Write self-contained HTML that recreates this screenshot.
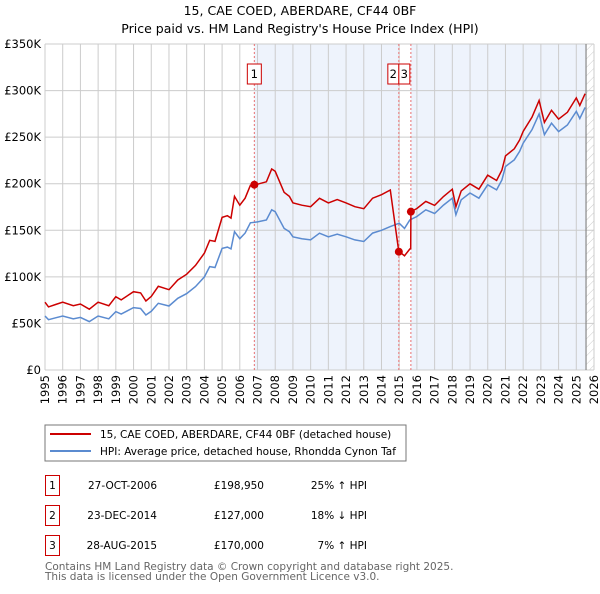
<!DOCTYPE html>
<html><head><meta charset="utf-8"><style>
body{margin:0;background:#fff;font-family:"DejaVu Sans",sans-serif;}
svg text{font-family:"DejaVu Sans",sans-serif;}
</style></head><body>
<svg id="c" width="600" height="590" xmlns="http://www.w3.org/2000/svg">
<defs><pattern id="hatch" width="6" height="6" patternUnits="userSpaceOnUse" patternTransform="rotate(45)"><line x1="0" y1="0" x2="0" y2="6" stroke="#ccc" stroke-width="1"/></pattern></defs>
<text x="300" y="15" text-anchor="middle" font-size="12.5">15, CAE COED, ABERDARE, CF44 0BF</text>
<text x="300" y="33" text-anchor="middle" font-size="12.5">Price paid vs. HM Land Registry's House Price Index (HPI)</text>
<g id="plot"></g>
<g>
<rect x="45" y="425" width="361" height="36" fill="#fff" stroke="#777" stroke-width="1"/>
<line x1="50" y1="434" x2="91" y2="434" stroke="#cc0000" stroke-width="2"/>
<text x="100" y="438" font-size="10.5">15, CAE COED, ABERDARE, CF44 0BF (detached house)</text>
<line x1="50" y1="451" x2="91" y2="451" stroke="#5b8bd0" stroke-width="2"/>
<text x="100" y="455" font-size="10.5">HPI: Average price, detached house, Rhondda Cynon Taf</text>
</g>
<g id="table" font-size="10.5"></g>
<text x="45" y="570" font-size="10.5" fill="#666">Contains HM Land Registry data © Crown copyright and database right 2025.</text>
<text x="45" y="580" font-size="10.5" fill="#666">This data is licensed under the Open Government Licence v3.0.</text>
</svg>
<script>
const hpiYears=[1995,1995.2,1995.6,1996,1996.6,1997,1997.5,1998,1998.6,1999,1999.3,2000,2000.4,2000.7,2001,2001.4,2002,2002.5,2003,2003.5,2004,2004.3,2004.6,2005,2005.3,2005.5,2005.7,2006,2006.3,2006.6,2007,2007.5,2007.8,2008,2008.5,2008.8,2009,2009.5,2010,2010.5,2011,2011.5,2012,2012.5,2013,2013.5,2014,2014.5,2015,2015.3,2015.6,2016,2016.5,2017,2017.5,2018,2018.2,2018.5,2019,2019.5,2020,2020.5,2020.8,2021,2021.5,2021.8,2022,2022.5,2022.9,2023.2,2023.6,2024,2024.5,2025,2025.2,2025.5];
const hpiValues=[58,54,56,58,55,56.5,52,58,55,62.7,60,67,66,59,63,71.6,68.7,77,82,89.5,100,111,110,130.6,132,130,148.5,141,147,158,159,161,172,170,152,148.5,143,141,139.7,146.9,143,145.8,143,139.7,138,147,150,154,157.6,152,161,164.8,172,168,177,184.5,166.6,182.7,190,184.5,198.8,193.4,204,218.5,225.7,234.7,243.6,258,275,252.6,265,256,263,277.6,270,281.9];
const saleLabels=["1","2","3"];
const saleYears=[2006.82,2014.98,2015.66];
const salePrices=[198.95,127,170];
const saleDates=["27-OCT-2006","23-DEC-2014","28-AUG-2015"];
const salePriceText=["£198,950","£127,000","£170,000"];
const saleHpiText=["25% ↑ HPI","18% ↓ HPI","7% ↑ HPI"];
const yTicks=[0,50,100,150,200,250,300,350];
const yTickLabels=["£0","£50K","£100K","£150K","£200K","£250K","£300K","£350K"];
const xMin=1995,xMax=2026,yMax=350,dataEnd=2025.55;
const L=45,R=594,T=44,B=370;
const sx=v=>L+(v-xMin)/(xMax-xMin)*(R-L);
const sy=v=>B-v/yMax*(B-T);
const NS="http://www.w3.org/2000/svg";
const plot=document.getElementById('plot');
function mk(t,a,p){const e=document.createElementNS(NS,t);for(const k in a)e.setAttribute(k,a[k]);(p||plot).appendChild(e);return e;}
function hpiAt(y){for(let i=1;i<hpiYears.length;i++){if(y<=hpiYears[i]){const f=(y-hpiYears[i-1])/(hpiYears[i]-hpiYears[i-1]);return hpiValues[i-1]+f*(hpiValues[i]-hpiValues[i-1]);}}return hpiValues[hpiValues.length-1];}
let s=mk('rect',{x:sx(saleYears[0]),y:T,width:sx(saleYears[1])-sx(saleYears[0]),height:B-T,fill:'#eef3fc'});

s=mk('rect',{x:sx(saleYears[2]),y:T,width:sx(dataEnd)-sx(saleYears[2]),height:B-T,fill:'#eef3fc'});

s=mk('rect',{x:sx(dataEnd),y:T,width:R-sx(dataEnd),height:B-T,fill:'url(#hatch)'});

for(let y=xMin;y<=xMax;y++){const g=mk('line',{x1:sx(y),x2:sx(y),y1:T,y2:B,stroke:'#ccc','stroke-width':1});

const t=mk('text',{x:0,y:0,'font-size':11.5,'text-anchor':'end',transform:`translate(${sx(y)+4},${B+5}) rotate(-90)`});t.textContent=y;
}
yTicks.forEach((v,i)=>{const g=mk('line',{x1:L,x2:R,y1:sy(v),y2:sy(v),stroke:'#ccc','stroke-width':1});

const t=mk('text',{x:L-4,y:sy(v)+4,'font-size':11.5,'text-anchor':'end'});t.textContent=yTickLabels[i];
});
let el=mk('line',{x1:sx(dataEnd),x2:sx(dataEnd),y1:T,y2:B,stroke:'#888','stroke-width':1.2});

saleYears.forEach((y,i)=>{const l=mk('line',{x1:sx(y),x2:sx(y),y1:T,y2:B,stroke:'#e87070','stroke-dasharray':'2,2','stroke-width':1});
});
let d=hpiYears.map((y,i)=>(i?'L':'M')+sx(y).toFixed(1)+','+sy(hpiValues[i]).toFixed(1)).join('');
el=mk('path',{d,fill:'none',stroke:'#5b8bd0','stroke-width':1.5});

const ratios=saleYears.map((y,i)=>salePrices[i]/hpiAt(y));
const pts=[];
hpiYears.forEach((y,i)=>{if(y<saleYears[1])pts.push([y,hpiValues[i]*ratios[0]]);});
pts.push([saleYears[1],salePrices[1]]);
hpiYears.forEach((y,i)=>{if(y>saleYears[1]&&y<saleYears[2])pts.push([y,hpiValues[i]*ratios[1]]);});
pts.push([saleYears[2]-0.01,hpiAt(saleYears[2])*ratios[1]]);
pts.push([saleYears[2],salePrices[2]]);
hpiYears.forEach((y,i)=>{if(y>saleYears[2])pts.push([y,hpiValues[i]*ratios[2]]);});
d=pts.map((p,i)=>(i?'L':'M')+sx(p[0]).toFixed(1)+','+sy(p[1]).toFixed(1)).join('');
el=mk('path',{d,fill:'none',stroke:'#cc0000','stroke-width':1.5});

saleYears.forEach((y,i)=>{const c=mk('circle',{cx:sx(y),cy:sy(salePrices[i]),r:4,fill:'#cc0000'});
});
saleYears.forEach((y,i)=>{
let bx,bw;
if(i==0){bx=sx(y)-7;bw=14;}else if(i==1){bx=sx(y)-11;bw=11;}else{bx=sx(saleYears[1]);bw=11;}
const b=mk('rect',{x:bx,y:64,width:bw,height:20,fill:'#fff',stroke:'#cc0000','stroke-width':1});

const t=mk('text',{x:bx+bw/2,y:78,'font-size':11.5,'text-anchor':'middle'});t.textContent=saleLabels[i];
});
const tb=document.getElementById('table');
const rowY=[475,505,535];
saleLabels.forEach((lab,i)=>{const y=rowY[i];
let e=mk('rect',{x:45.5,y:y+0.5,width:14,height:20,fill:'#fff',stroke:'#cc0000'},tb);

const cells=[[52.5,lab,'middle'],[157,saleDates[i],'end'],[264,salePriceText[i],'end'],[367,saleHpiText[i],'end']];
cells.forEach(c=>{const t=mk('text',{x:c[0],y:y+14,'font-size':10.5,'text-anchor':c[2]},tb);t.textContent=c[1];
});
});
</script>
</body></html>
